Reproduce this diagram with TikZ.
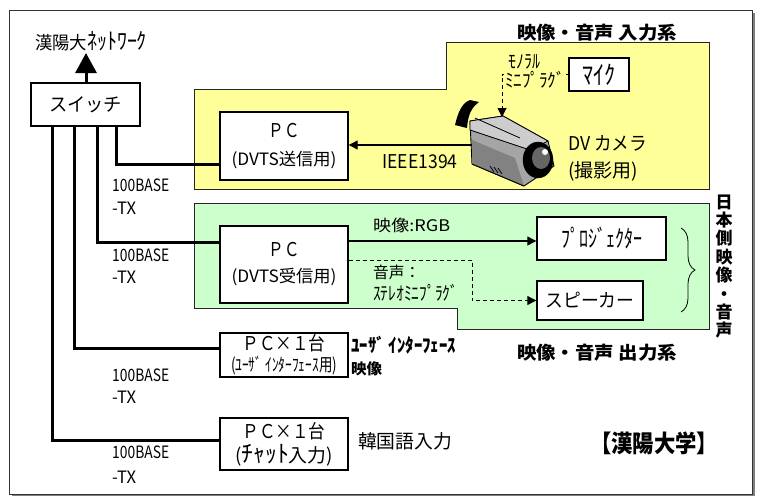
\documentclass[tikz,border=0pt]{standalone}
\usepackage{graphicx}
\usepackage{fontspec}
\setmainfont{Noto Sans CJK JP}
\usetikzlibrary{arrows.meta,decorations.pathreplacing}

\newcommand\fz[2]{\fontsize{#1}{#2}\selectfont}
% set a text to a given width, keeping its height
\newcommand\fitw[2]{\resizebox{#1}{\height}{#2}}

\definecolor{inyellow}{RGB}{255,255,153}
\definecolor{outgreen}{RGB}{204,255,204}
\definecolor{camgray}{RGB}{165,165,165}
\definecolor{camlight}{RGB}{205,205,205}
\definecolor{camdark}{RGB}{130,130,130}

\tikzset{
  box/.style={draw, line width=1.4pt, fill=white, inner sep=0pt, align=center},
  region/.style={draw=black!85, line width=0.9pt},
  link/.style={line width=3pt},
  tip/.style={-{Triangle[length=9pt,width=9pt]}},
  thinlink/.style={line width=1.3pt},
  plug/.style={dashed, dash pattern=on 4pt off 3pt, line width=1pt},
  lbl/.style={inner sep=0pt},
  heading/.style={inner sep=0pt, font=\fz{18}{20}\bfseries},
  txlbl/.style={lbl, anchor=west, align=left},
}

\begin{document}
\begin{tikzpicture}[x=1pt,y=-1pt]
\useasboundingbox (0,0) rectangle (757,496);

% frame with shadow
\fill[black!50] (12,13) rectangle (755,496);
\draw[black!80, line width=0.8pt, fill=white] (9,10) rectangle (752,494);

% input and output groups
\draw[region, fill=inyellow] (194,89) -- (446,89) -- (446,42) -- (709,42) -- (709,189) -- (194,189) -- cycle;
\draw[region, fill=outgreen] (194,203) -- (709,203) -- (709,329) -- (457,329) -- (457,308) -- (194,308) -- cycle;

\node[heading] (intitle) at (597,33) {\fitw{160pt}{映像・音声 入力系}};
\node[heading] (outtitle) at (597,353) {\fitw{160pt}{映像・音声 出力系}};

% switch and uplink
\node[box, minimum width=109pt, minimum height=43pt, font=\fz{19}{20}] (sw) at (85.5,104.5) {\fitw{73pt}{スイッチ}};
\node[lbl, font=\fz{18}{20}] (net) at (91,41) {\fitw{52pt}{漢陽大}\fitw{60pt}{\fz{23}{20}ﾈｯﾄﾜｰｸ}};
\coordinate (netin) at (86,53);
\draw[link, -{Triangle[length=20pt,width=21pt]}] (sw.north -| netin) -- (netin);

% PCs
\node[box, minimum width=128pt, minimum height=68pt, font=\fz{19}{28}] (pc1) at (284,146)
  {\fitw{31pt}{ＰＣ}\\\fitw{105pt}{\fz{17}{28}(DVTS送信用)}};
\node[box, minimum width=128pt, minimum height=77pt, font=\fz{19}{26}] (pc2) at (284,264.5)
  {\fitw{31pt}{ＰＣ}\\\fitw{105pt}{\fz{17}{26}(DVTS受信用)}};
\node[box, minimum width=128pt, minimum height=44pt, font=\fz{19}{21}] (pc3) at (284,355)
  {\fitw{83pt}{ＰＣ×１台}\\\fitw{106pt}{\fz{18}{21}(ﾕｰｻﾞ ｲﾝﾀｰﾌｪｰｽ用)}};
\node[box, minimum width=128pt, minimum height=52pt, font=\fz{19}{24}] (pc4) at (284,444)
  {\fitw{83pt}{ＰＣ×１台}\\\fitw{98pt}{({\fz{24}{24}ﾁｬｯﾄ}入力)}};

% switch to PCs
\draw[link] (sw.south -| 116,0) |- (pc1.west |- 0,164);
\draw[link] (sw.south -| 97,0) |- (pc2.west |- 0,242);
\draw[link] (sw.south -| 74,0) |- (pc3.west |- 0,348);
\draw[link] (sw.south -| 52,0) |- (pc4.west |- 0,440);

\node[txlbl, font=\fz{17}{23}] (tx1) at (112,196.5) {\fitw{57pt}{100BASE}\\\fitw{24pt}{-TX}};
\node[txlbl, font=\fz{17}{22}] (tx2) at (112,266) {\fitw{57pt}{100BASE}\\\fitw{24pt}{-TX}};
\node[txlbl, font=\fz{17}{22}] (tx3) at (112,386) {\fitw{57pt}{100BASE}\\\fitw{24pt}{-TX}};
\node[txlbl, font=\fz{17}{25}] (tx4) at (112,464.5) {\fitw{57pt}{100BASE}\\\fitw{24pt}{-TX}};

% DV camera
\begin{scope}[line join=round]
  \fill[black] (455,125) .. controls (458,112) and (462,103) .. (470,100) -- (479,102)
    .. controls (471,108) and (468,115) .. (467,128) -- cycle;
  \filldraw[fill=camgray, draw=black, line width=0.9pt] (470,121) -- (503,116) -- (548,141)
    -- (554,166) -- (524,186) -- (472,164) -- cycle;
  \filldraw[fill=camlight, draw=black, line width=0.8pt] (470,121) -- (503,116) -- (548,141)
    -- (530,150) -- (470,130) -- cycle;
  \draw[line width=0.8pt] (475,118) -- (520,138);
  \fill[camdark] (472,140) -- (515,158) -- (524,186) -- (472,164) -- cycle;
  \draw[line width=0.9pt] (472,164) -- (524,186);
  \filldraw[fill=black] (538,160) ellipse (15 and 18);
  \fill[black!60] (541,158) ellipse (9 and 11);
  \fill[white] (545,152) circle (3);
  \draw[line width=0.8pt] (490,166) -- (494,172) (494,167) -- (498,173) (498,168) -- (502,174);
\end{scope}
\coordinate (cam1394) at (472,145);
\coordinate (micin) at (502,117);
\node[lbl, anchor=west, align=left, font=\fz{19}{27}] (camlbl) at (568,158)
  {\fitw{79pt}{DV カメラ}\\\fitw{70pt}{(撮影用)}};

% microphone
\node[box, minimum width=60pt, minimum height=33pt, font=\fz{26}{26}] (mic) at (599,74.5) {\fitw{33pt}{ﾏｲｸ}};
\draw[plug, tip] (mic.west) -| (micin);
\node[lbl, font=\fz{19}{19}] (mono) at (524,62) {\fitw{32pt}{ﾓﾉﾗﾙ}};
\node[lbl, fill=inyellow, inner sep=1pt, font=\fz{19}{19}] (mini) at (535,80) {\fitw{60pt}{ﾐﾆﾌﾟﾗｸﾞ}};

% IEEE1394
\draw[thinlink, tip] (cam1394) -- (pc1.east |- cam1394);
\node[lbl, font=\fz{19}{20}] (ieee) at (420,162) {\fitw{75pt}{IEEE1394}};

% outputs
\node[box, minimum width=129pt, minimum height=43pt, font=\fz{24}{24}] (proj) at (601.5,238.5) {\fitw{81pt}{ﾌﾟﾛｼﾞｪｸﾀｰ}};
\node[box, minimum width=106pt, minimum height=39pt, font=\fz{19}{20}] (spk) at (590,300.5) {\fitw{89pt}{スピーカー}};

\draw[thinlink, tip] (pc2.east |- 0,241) -- (proj.west |- 0,241);
\node[lbl, anchor=west, font=\fz{16}{17}] (rgb) at (373,225) {\fitw{77pt}{映像:RGB}};
\draw[plug, tip] (pc2.east |- 0,260) -- (472,260) |- (spk.west);
\node[lbl, anchor=west, font=\fz{16}{17}] (snd) at (373,272) {\fitw{47pt}{音声：}};
\node[lbl, anchor=west, font=\fz{19}{19}] (stereo) at (373,293) {\fitw{85pt}{ｽﾃﾚｵﾐﾆﾌﾟﾗｸﾞ}};

% brace and side label
\coordinate (brtop) at (681,228);
\coordinate (brbot) at (681,312);
\draw[line width=0.8pt, decorate, decoration={brace, amplitude=14pt}] (brtop) -- (brbot);
\node[lbl, align=center, font=\fz{17}{18.4}\bfseries] (side) at (724,266.5)
  {日\\本\\側\\映\\像\\・\\音\\声};

% remaining labels
\node[lbl, anchor=north west, align=left, font=\fz{19}{22}\bfseries] (uilbl) at (351,336)
  {\fitw{105pt}{ﾕｰｻﾞ ｲﾝﾀｰﾌｪｰｽ}\\\fitw{31pt}{\fz{15}{22}映像}};
\node[lbl, font=\fz{19}{20}] (kor) at (405,441) {\fitw{94pt}{韓国語入力}};
\node[lbl, font=\fz{24}{26}\bfseries] (univ) at (654,443) {\fitw{128pt}{【漢陽大学】}};
\end{tikzpicture}
\end{document}
